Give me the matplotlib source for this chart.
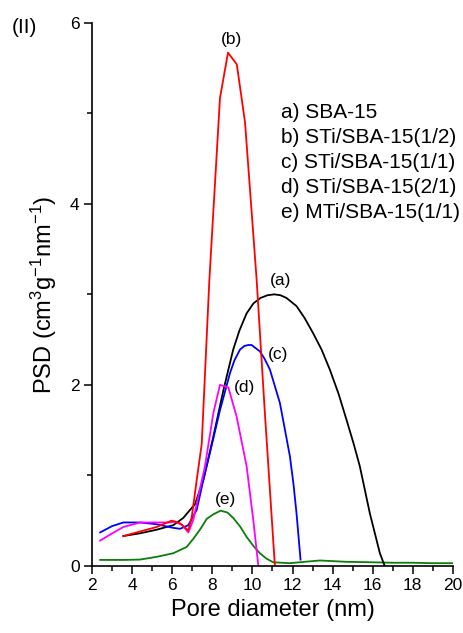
import matplotlib.pyplot as plt
from matplotlib.ticker import MultipleLocator

plt.rcParams['font.family'] = ['Liberation Sans', 'DejaVu Sans']
plt.rcParams['mathtext.fontset'] = 'custom'
plt.rcParams['mathtext.rm'] = 'Liberation Sans'
plt.rcParams['mathtext.default'] = 'regular'

# a) SBA-15
x_a = [3.56, 4.39, 5.22, 6.05, 6.55, 6.89, 7.13, 7.55, 8.05, 8.55, 9.04, 9.35, 9.71, 10.05,
       10.4, 10.75, 11.09, 11.4, 11.7, 12.2, 12.6, 13.03, 13.45, 13.86, 14.3, 14.7, 15.05,
       15.36, 15.86, 16.36, 16.6]
y_a = [0.33, 0.36, 0.40, 0.45, 0.53, 0.62, 0.68, 0.95, 1.43, 1.94, 2.39, 2.6, 2.79, 2.9,
       2.96, 2.99, 3.0, 2.99, 2.96, 2.87, 2.74, 2.57, 2.39, 2.17, 1.9, 1.61, 1.35,
       1.1, 0.58, 0.14, 0.0]
# b) STi/SBA-15(1/2)
x_b = [3.56, 4.39, 5.22, 5.97, 6.39, 6.8, 6.97, 7.22, 7.47, 7.85, 8.38, 8.78, 9.22, 9.63,
       10.21, 10.62, 11.12]
y_b = [0.33, 0.38, 0.43, 0.5, 0.47, 0.39, 0.54, 0.95, 1.35, 3.16, 5.17, 5.67, 5.54, 4.9,
       3.16, 1.69, 0.0]
# c) STi/SBA-15(1/1)
x_c = [2.4, 3.0, 3.56, 4.39, 5.22, 6.05, 6.39, 6.8, 7.22, 7.55, 7.88, 8.38, 8.88, 9.1, 9.38,
       9.6, 9.79, 9.96, 10.37, 10.6, 10.87, 11.1, 11.37, 11.6, 11.87, 12.05, 12.2, 12.4]
y_c = [0.37, 0.44, 0.48, 0.48, 0.46, 0.42, 0.41, 0.45, 0.62, 0.95, 1.25, 1.72, 2.13, 2.27, 2.39,
       2.43, 2.44, 2.44, 2.37, 2.29, 2.17, 2.0, 1.8, 1.53, 1.21, 0.9, 0.58, 0.07]
# d) STi/SBA-15(2/1)
x_d = [2.4, 3.0, 3.56, 4.39, 5.2, 5.89, 6.14, 6.5, 6.8, 7.05, 7.3, 7.63, 8.05, 8.38, 8.8,
       9.21, 9.71, 10.04, 10.29]
y_d = [0.28, 0.36, 0.43, 0.48, 0.48, 0.48, 0.49, 0.45, 0.37, 0.51, 0.77, 1.1, 1.69, 2.0, 1.97,
       1.65, 1.1, 0.51, 0.01]
# e) MTi/SBA-15(1/1)
x_e = [2.4, 3.56, 4.39, 5.22, 6.05, 6.72, 7.05, 7.38, 7.72, 8.05, 8.41, 8.75, 9.04, 9.4, 9.71,
       10.05, 10.37, 10.7, 11.04, 11.87, 12.6, 13.37, 14.7, 16, 17, 18, 19, 20]
y_e = [0.066, 0.066, 0.07, 0.1, 0.14, 0.21, 0.3, 0.4, 0.52, 0.57, 0.61, 0.59, 0.53, 0.43, 0.32,
       0.22, 0.14, 0.08, 0.04, 0.03, 0.045, 0.06, 0.045, 0.04, 0.035, 0.035, 0.03, 0.03]

legend_lines = ['a) SBA-15', 'b) STi/SBA-15(1/2)', 'c) STi/SBA-15(1/1)',
                'd) STi/SBA-15(2/1)', 'e) MTi/SBA-15(1/1)']

fig = plt.figure(figsize=(4.63, 6.33), dpi=100)
ax = fig.add_axes([0.199, 0.106, 0.779, 0.858])

ax.plot(x_e, y_e, color='#0a7d0a', lw=1.3)
ax.plot(x_a, y_a, color='black', lw=1.3)
ax.plot(x_c, y_c, color='#0000ff', lw=1.3)
ax.plot(x_d, y_d, color='#ff00ff', lw=1.3)
ax.plot(x_b, y_b, color='#ff0000', lw=1.3)

ax.text(8.98, 5.82, '(b)', fontsize=12.5, ha='center', va='center')
ax.text(11.42, 3.15, '(a)', fontsize=12.5, ha='center', va='center')
ax.text(11.27, 2.33, '(c)', fontsize=12.5, ha='center', va='center')
ax.text(9.58, 1.97, '(d)', fontsize=12.5, ha='center', va='center')
ax.text(8.68, 0.73, '(e)', fontsize=12.5, ha='center', va='center')

for i, s in enumerate(legend_lines):
    ax.text(11.45, 5.01 - i * 0.276, s, fontsize=15, ha='left', va='center')

fig.text(0.052, 0.956, '(II)', fontsize=15, ha='center', va='center')

ax.set_xlim(2, 20)
ax.set_ylim(0, 6)
ax.xaxis.set_major_locator(MultipleLocator(2))
ax.xaxis.set_minor_locator(MultipleLocator(1))
ax.yaxis.set_major_locator(MultipleLocator(2))
ax.yaxis.set_minor_locator(MultipleLocator(1))
ax.spines['top'].set_visible(False)
ax.spines['right'].set_visible(False)
ax.spines['left'].set_linewidth(1.2)
ax.spines['bottom'].set_linewidth(1.2)
ax.tick_params(which='major', direction='out', length=6, width=1.1, labelsize=12.5, pad=3)
ax.tick_params(which='minor', direction='out', length=3.5, width=1.1)

ax.set_xlabel('Pore diameter (nm)', fontsize=17, labelpad=4)
ax.set_ylabel('PSD (cm$^{3}$g$^{-1}$nm$^{-1}$)', fontsize=17, labelpad=8)

fig.savefig('out.png', dpi=100)
